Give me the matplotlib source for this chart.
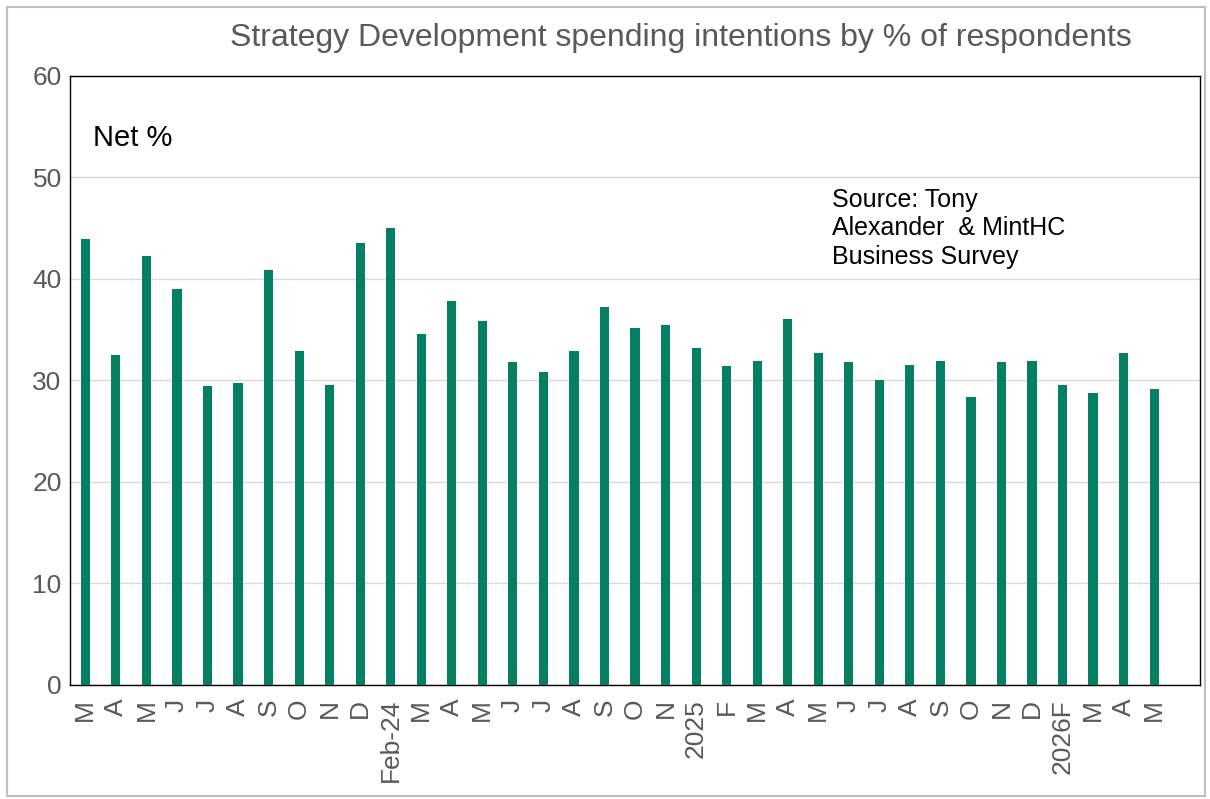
import numpy as np
import matplotlib.pyplot as plt
from matplotlib.patches import Rectangle

# ---------------- dados ----------------

meses = ["M", "A", "M", "J", "J", "A", "S", "O", "N", "D", "Feb-24",
         "M", "A", "M", "J", "J", "A", "S", "O", "N", "2025",
         "F", "M", "A", "M", "J", "J", "A", "S", "O", "N", "D", "2026F",
         "M", "A", "M"]

net_pct = [43.9, 32.5, 42.3, 39.0, 29.5, 29.8, 40.9, 32.9, 29.6, 43.5, 45.0,
           34.6, 37.8, 35.9, 31.8, 30.8, 32.9, 37.2, 35.2, 35.5, 33.2,
           31.4, 31.9, 36.1, 32.7, 31.8, 30.0, 31.5, 31.9, 28.4, 31.8, 31.9, 29.6,
           28.8, 32.7, 29.2]

yticks = [0, 10, 20, 30, 40, 50, 60]

# ---------------- grafico ----------------

plt.rcParams['font.family'] = ['Liberation Sans', 'DejaVu Sans']
cinza = '#595959'
verde = '#047F61'

fig = plt.figure(figsize=(12.1, 7.99), dpi=100)
ax = fig.add_axes([0.0579, 0.1427, 0.9338, 0.7622])

x = np.arange(len(net_pct))
ax.bar(x, net_pct, width=0.3, color=verde, zorder=3)

ax.set_xlim(-0.5, len(net_pct) + 0.5)
ax.set_ylim(0, 60)
ax.set_yticks(yticks)
ax.set_xticks(x)
ax.set_xticklabels(meses, rotation=90, va='top', ha='center')
ax.tick_params(axis='both', length=0, labelsize=19, labelcolor=cinza)
ax.tick_params(axis='x', pad=10)
ax.tick_params(axis='y', pad=6)
ax.grid(axis='y', color='#d9d9d9', linewidth=1, zorder=0)

for s in ax.spines.values():
    s.set_color('black')
    s.set_linewidth(1.0)

ax.text(0.02, 0.898, "Net %", transform=ax.transAxes, fontsize=21,
        color='black', ha='left', va='center')
ax.text(0.674, 0.750, "Source: Tony\nAlexander  & MintHC\nBusiness Survey",
        transform=ax.transAxes, fontsize=18, color='black', ha='left',
        va='center', linespacing=1.24)

fig.text(0.563, 0.952, "Strategy Development spending intentions by % of respondents",
         fontsize=23, color=cinza, ha='center', va='center')

# moldura do grafico
fig.patches.append(Rectangle((0.006, 0.004), 0.99, 0.987, transform=fig.transFigure,
                             fill=False, edgecolor='#bfbfbf', linewidth=1.5))

plt.savefig('out.png', dpi=100)
